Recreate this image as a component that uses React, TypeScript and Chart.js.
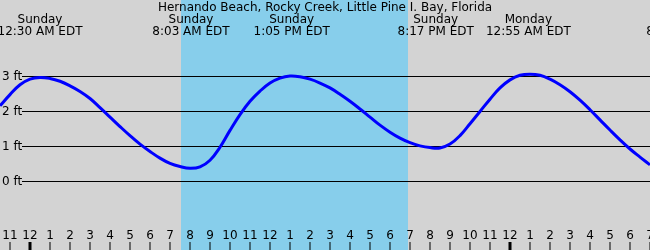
import React, { useEffect, useRef } from "react";
import { Chart, registerables } from "chart.js";

Chart.register(...registerables);

// Hours relative to Sunday 12:00 AM EDT
const hours = [
  -1.5, -1, -0.5, 0, 0.5, 1, 1.5, 2, 2.5, 3, 3.5, 4, 4.5, 5, 5.5, 6, 6.5, 7, 7.5, 8, 8.5, 9,
  9.5, 10, 10.5, 11, 11.5, 12, 12.5, 13, 13.5, 14, 14.5, 15, 15.5, 16, 16.5, 17, 17.5, 18,
  18.5, 19, 19.5, 20, 20.5, 21, 21.5, 22, 22.5, 23, 23.5, 24, 24.5, 25, 25.5, 26, 26.5, 27,
  27.5, 28, 28.5, 29, 29.5, 30, 30.5, 31,
];
const tideFt = [
  2.15, 2.47, 2.75, 2.91, 2.96, 2.93, 2.85, 2.72, 2.56, 2.36, 2.1, 1.83, 1.56, 1.3, 1.06,
  0.85, 0.66, 0.51, 0.42, 0.37, 0.41, 0.6, 0.97, 1.45, 1.9, 2.28, 2.57, 2.8, 2.94, 3.0, 2.98,
  2.91, 2.8, 2.66, 2.48, 2.28, 2.06, 1.83, 1.6, 1.4, 1.23, 1.1, 1.01, 0.96, 0.95, 1.06, 1.3,
  1.64, 1.99, 2.34, 2.66, 2.89, 3.02, 3.05, 3.02, 2.91, 2.75, 2.55, 2.31, 2.04, 1.75, 1.46,
  1.18, 0.92, 0.69, 0.47,
];

const hourTicks = [
  -1, 0, 1, 2, 3, 4, 5, 6, 7, 8, 9, 10, 11, 12, 13, 14, 15, 16, 17, 18, 19, 20, 21, 22, 23,
  24, 25, 26, 27, 28, 29, 30, 31,
];
const hourLabels = [
  "11", "12", "1", "2", "3", "4", "5", "6", "7", "8", "9", "10", "11", "12", "1", "2", "3",
  "4", "5", "6", "7", "8", "9", "10", "11", "12", "1", "2", "3", "4", "5", "6", "7",
];
const midnightTicks = [0, 24];

const feetTicks = [0, 1, 2, 3];
const feetLabels = ["0 ft", "1 ft", "2 ft", "3 ft"];

const eventHours = [0.5, 8.05, 13.083, 20.283, 24.917, 32.75];
const eventDays = ["Sunday", "Sunday", "Sunday", "Sunday", "Monday", "Monday"];
const eventTimes = [
  "12:30 AM EDT",
  "8:03 AM EDT",
  "1:05 PM EDT",
  "8:17 PM EDT",
  "12:55 AM EDT",
  "8:45 AM EDT",
];

const daylight = [7.55, 18.88];
const title = "Hernando Beach, Rocky Creek, Little Pine I. Bay, Florida";

const FONT = '12px "DejaVu Sans", sans-serif';

const tidePlugin = {
  id: "tidePlugin",
  beforeDraw(chart: any) {
    const { ctx, width, height } = chart;
    const xs = chart.scales.x;
    ctx.save();
    ctx.fillStyle = "#d3d3d3";
    ctx.fillRect(0, 0, width, height);
    const x0 = Math.round(xs.getPixelForValue(daylight[0]));
    const x1 = Math.round(xs.getPixelForValue(daylight[1]));
    ctx.fillStyle = "#87ceeb";
    ctx.fillRect(x0, 0, x1 - x0, height);
    ctx.restore();
  },
  beforeDatasetsDraw(chart: any) {
    const { ctx, width } = chart;
    const ys = chart.scales.y;
    ctx.save();
    ctx.strokeStyle = "#000";
    ctx.lineWidth = 1;
    ctx.fillStyle = "#000";
    ctx.font = FONT;
    ctx.textBaseline = "middle";
    ctx.textAlign = "left";
    feetTicks.forEach((v, i) => {
      const y = Math.round(ys.getPixelForValue(v)) + 0.5;
      ctx.beginPath();
      ctx.moveTo(22, y);
      ctx.lineTo(width, y);
      ctx.stroke();
      ctx.fillText(feetLabels[i], 2, y);
    });
    ctx.restore();
  },
  afterDatasetsDraw(chart: any) {
    const { ctx, width, height } = chart;
    const xs = chart.scales.x;
    ctx.save();
    ctx.fillStyle = "#000";
    ctx.font = FONT;
    ctx.textAlign = "center";
    ctx.textBaseline = "middle";
    ctx.fillText(title, width / 2, 8);
    eventHours.forEach((h, i) => {
      const x = xs.getPixelForValue(h);
      ctx.fillText(eventDays[i], x, 20);
      ctx.fillText(eventTimes[i], x, 32);
    });
    hourTicks.forEach((h, i) => {
      const x = Math.round(xs.getPixelForValue(h));
      ctx.fillText(hourLabels[i], x, 236);
      const thick = midnightTicks.includes(h);
      if (thick) {
        ctx.fillRect(x - 1.5, 242, 3, height - 242);
      } else {
        ctx.fillRect(x - 0.5, 242, 1, height - 242);
      }
    });
    ctx.restore();
  },
};

export default function App() {
  const ref = useRef<HTMLCanvasElement | null>(null);
  useEffect(() => {
    if (!ref.current) return;
    const chart = new Chart(ref.current, {
      type: "line",
      data: {
        datasets: [
          {
            data: hours.map((h, i) => ({ x: h, y: tideFt[i] })),
            borderColor: "#0000ff",
            borderWidth: 3,
            pointRadius: 0,
            tension: 0.4,
            fill: false,
          },
        ],
      },
      options: {
        animation: false,
        responsive: false,
        maintainAspectRatio: false,
        devicePixelRatio: 1,
        layout: { padding: 0 },
        events: [],
        plugins: { legend: { display: false }, tooltip: { enabled: false }, title: { display: false } },
        scales: {
          x: { type: "linear", min: -1.5, max: 31, display: false },
          y: { type: "linear", min: -1.957, max: 5.165, display: false },
        },
      },
      plugins: [tidePlugin],
    } as any);
    return () => chart.destroy();
  }, []);
  return (
    <div style={{ position: "absolute", left: 0, top: 0, width: 650, height: 250 }}>
      <canvas ref={ref} width={650} height={250} style={{ display: "block" }} />
    </div>
  );
}
